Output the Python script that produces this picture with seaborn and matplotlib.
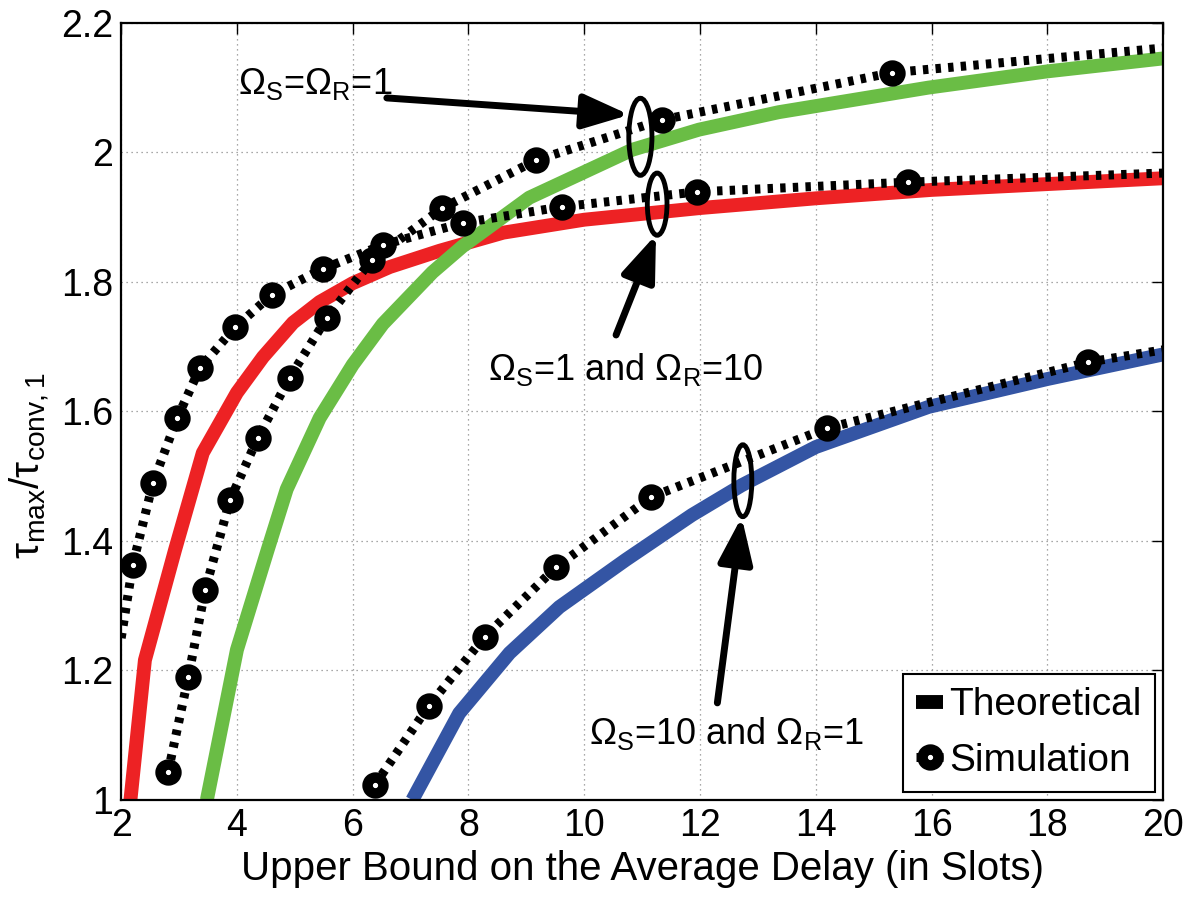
import numpy as np
import matplotlib
matplotlib.use('Agg')
import matplotlib.pyplot as plt
from matplotlib.lines import Line2D
from matplotlib.patches import Ellipse
import seaborn as sns

# theoretical curves (solid, coloured)
red_x = [2.16, 2.41, 2.93, 3.41, 4.0, 4.45, 4.97, 5.43, 6.0, 6.64, 7.5, 8.6, 10, 12, 14, 16, 18, 20]
red_y = [1.0, 1.216, 1.386, 1.536, 1.629, 1.684, 1.737, 1.769, 1.798, 1.823, 1.848, 1.876, 1.896, 1.914, 1.929, 1.942, 1.951, 1.96]

green_x = [3.48, 4.0, 4.53, 4.86, 5.43, 6.0, 6.52, 7.38, 7.9, 9.05, 10.83, 11.98, 13.36, 15.95, 18, 20]
green_y = [1.0, 1.232, 1.386, 1.48, 1.59, 1.672, 1.735, 1.815, 1.855, 1.93, 2.004, 2.035, 2.062, 2.10, 2.125, 2.145]

blue_x = [7.03, 7.84, 8.71, 9.57, 10.72, 11.86, 12.72, 14.0, 15.95, 18, 20]
blue_y = [1.0, 1.134, 1.227, 1.298, 1.371, 1.44, 1.486, 1.545, 1.607, 1.65, 1.688]

# simulation curves (dotted black with markers)
sim_red_x = [2.0, 2.2, 2.55, 2.97, 3.36, 3.97, 4.6, 5.48, 6.52, 7.9, 9.62, 11.95, 15.6, 20]
sim_red_y = [1.25, 1.363, 1.49, 1.59, 1.667, 1.73, 1.78, 1.82, 1.857, 1.891, 1.916, 1.939, 1.954, 1.968]

sim_green_x = [2.81, 3.16, 3.45, 3.88, 4.36, 4.91, 5.55, 6.33, 7.55, 9.17, 11.34, 15.31, 20]
sim_green_y = [1.043, 1.19, 1.324, 1.463, 1.559, 1.652, 1.744, 1.834, 1.914, 1.988, 2.05, 2.123, 2.161]

sim_blue_x = [6.38, 7.31, 8.28, 9.52, 11.16, 14.19, 18.7, 20]
sim_blue_y = [1.023, 1.145, 1.252, 1.36, 1.468, 1.574, 1.676, 1.695]

x_ticks = [2, 4, 6, 8, 10, 12, 14, 16, 18, 20]
y_ticks = [1, 1.2, 1.4, 1.6, 1.8, 2, 2.2]
y_ticklabels = ['1', '1.2', '1.4', '1.6', '1.8', '2', '2.2']

RED = '#ED2224'
GREEN = '#6ABD45'
BLUE = '#3455A4'

sns.set_style('white')
plt.rcParams['font.family'] = ['Liberation Sans', 'DejaVu Sans']
plt.rcParams['mathtext.fontset'] = 'custom'
plt.rcParams['mathtext.rm'] = 'Liberation Sans'
plt.rcParams['mathtext.it'] = 'Liberation Sans:italic'
for k in ['text.color', 'axes.labelcolor', 'xtick.color', 'ytick.color']:
    plt.rcParams[k] = 'black'

fig = plt.figure(figsize=(11.88, 9.16), dpi=100)
ax = fig.add_axes([0.102, 0.1266, 0.877, 0.8485])

for xs, ys, c in [(red_x, red_y, RED), (green_x, green_y, GREEN), (blue_x, blue_y, BLUE)]:
    sns.lineplot(x=xs, y=ys, ax=ax, color=c, lw=10, sort=False, estimator=None,
                 legend=False, solid_capstyle='butt', zorder=2)

dot_style = dict(color='black', lw=6.5, ls=(0, (0.6, 0.8)), dash_capstyle='butt',
                 marker='o', ms=11.5, mew=7.5, mfc='white', mec='black')
sns.lineplot(x=sim_red_x, y=sim_red_y, ax=ax, sort=False, estimator=None, legend=False,
             markevery=list(range(1, len(sim_red_x) - 1)), zorder=3, **dot_style)
sns.lineplot(x=sim_green_x, y=sim_green_y, ax=ax, sort=False, estimator=None, legend=False,
             markevery=list(range(0, len(sim_green_x) - 1)), zorder=3, **dot_style)
sns.lineplot(x=sim_blue_x, y=sim_blue_y, ax=ax, sort=False, estimator=None, legend=False,
             markevery=list(range(0, len(sim_blue_x) - 1)), zorder=3, **dot_style)

ax.set_xlim(2, 20)
ax.set_ylim(1, 2.2)
ax.set_xticks(x_ticks)
ax.set_yticks(y_ticks)
ax.set_yticklabels(y_ticklabels)
ax.tick_params(direction='in', length=8, width=1, labelsize=27, top=True, right=True, pad=6)
ax.grid(True, ls=(0, (1, 3)), lw=0.9, color='0.55')
for s in ax.spines.values():
    s.set_color('black')
    s.set_linewidth(1.6)

ax.set_xlabel('Upper Bound on the Average Delay (in Slots)', fontsize=29, labelpad=4)
ax.set_ylabel('τ$_{\\rm max}$/τ$_{\\rm conv,1}$', fontsize=29)
ax.yaxis.set_label_coords(-0.066, 0.43)

# ellipses and arrows
for (cx, cy, w, h) in [(10.97, 2.024, 0.4, 0.119), (11.26, 1.92, 0.34, 0.096), (12.74, 1.493, 0.31, 0.111)]:
    ax.add_patch(Ellipse((cx, cy), w, h, fill=False, ec='black', lw=3.5, zorder=5))

arrow = dict(arrowstyle='-|>,head_length=0.8,head_width=0.3', lw=5, color='black',
             mutation_scale=35, shrinkA=0, shrinkB=0)
ax.annotate('', xy=(10.78, 2.058), xytext=(6.59, 2.084), arrowprops=arrow, zorder=6)
ax.annotate('', xy=(11.24, 1.873), xytext=(10.55, 1.718), arrowprops=arrow, zorder=6)
ax.annotate('', xy=(12.72, 1.437), xytext=(12.3, 1.15), arrowprops=arrow, zorder=6)

txt = dict(fontsize=26, va='center', ha='left', zorder=6)
ax.text(4.02, 2.105, 'Ω$_{\\rm S}$=Ω$_{\\rm R}$=1', **txt)
ax.text(8.33, 1.665, 'Ω$_{\\rm S}$=1 and Ω$_{\\rm R}$=10', **txt)
ax.text(10.09, 1.103, 'Ω$_{\\rm S}$=10 and Ω$_{\\rm R}$=1', **txt)

handles = [Line2D([], [], color='black', lw=10, solid_capstyle='butt'),
           Line2D([], [], **dot_style)]
leg = ax.legend(handles, ['Theoretical', 'Simulation'], loc='lower right', fontsize=28,
                handlelength=0.7, handletextpad=0.15, borderpad=0.35, labelspacing=0.5,
                fancybox=False, framealpha=1, borderaxespad=0.2)
leg.get_frame().set_edgecolor('black')
leg.get_frame().set_linewidth(1.5)

fig.savefig('out.png', dpi=100)
